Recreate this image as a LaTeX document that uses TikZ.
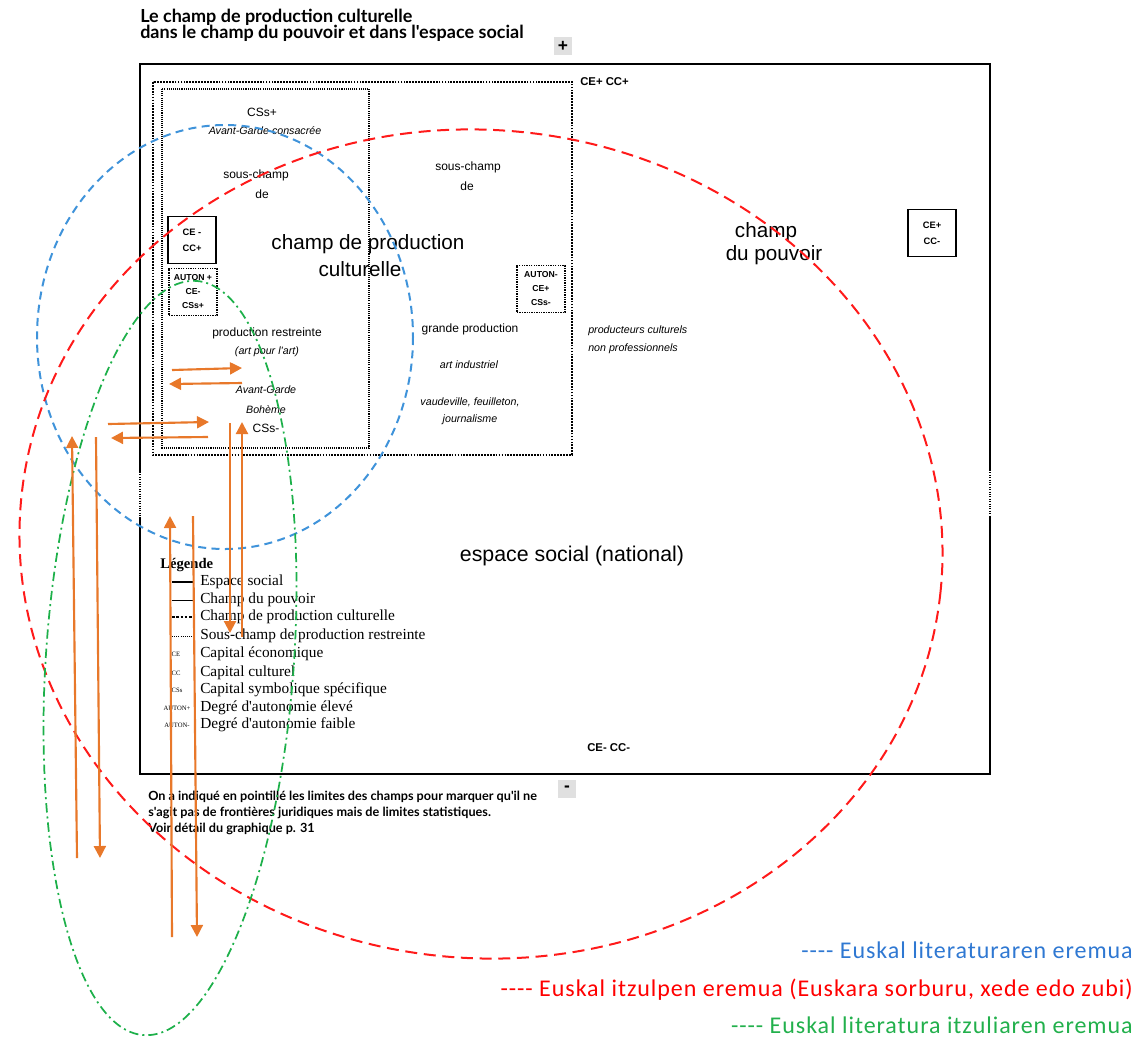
\documentclass[tikz,border=0pt]{standalone}
\usepackage{fontspec}
\setmainfont{Liberation Sans}
\newfontfamily\gillfont{Lato}
\newfontfamily\legfont{Liberation Serif}
\newfontfamily\calfont[LetterSpace=4]{Carlito}
\usetikzlibrary{arrows.meta}
\definecolor{myorange}{HTML}{E8782A}
\definecolor{myblue}{HTML}{3F93DA}
\definecolor{myred}{HTML}{FF1A1A}
\definecolor{mygreen}{HTML}{1DB04A}
\definecolor{txtblue}{HTML}{2F78D2}
\definecolor{txtred}{HTML}{FF0000}
\definecolor{txtgreen}{HTML}{22B04C}
\begin{document}
\begin{tikzpicture}[x=0.75pt,y=-0.75pt,
  esp/.style={line width=1.8pt},
  pouv/.style={double, double distance=0.9pt, line width=0.45pt},
  cpc/.style={line width=1.3pt, dash pattern=on 1.3pt off 0.9pt},
  sch/.style={line width=0.8pt, dash pattern=on 0.8pt off 0.8pt},
  dotgap/.style={line width=0.8pt, dash pattern=on 0.8pt off 1pt},
  lbl/.style={inner sep=0pt, align=center, font=\fontsize{9}{11}\selectfont},
  lbli/.style={inner sep=0pt, align=center, font=\fontsize{8}{10}\selectfont\itshape},
  big/.style={inner sep=0pt, align=center, font=\fontsize{15.5}{18}\selectfont},
  code/.style={inner sep=0pt, align=center, font=\fontsize{8.5}{11}\selectfont\bfseries},
  codebox/.style={draw, line width=0.9pt, minimum width=36pt, minimum height=35pt, inner sep=0pt, align=center, font=\fontsize{7}{12}\selectfont\bfseries},
  autobox/.style={draw, line width=0.9pt, dash pattern=on 1pt off 0.8pt, minimum width=36pt, minimum height=35pt, inner sep=0pt, align=center, font=\fontsize{6.5}{10.5}\selectfont\bfseries},
  legtxt/.style={anchor=west, inner sep=0pt, font=\legfont\fontsize{11.5}{13}\selectfont},
  legcode/.style={inner sep=0pt, font=\legfont\fontsize{5}{6}\selectfont},
  note/.style={anchor=west, inner sep=0pt, font=\gillfont\bfseries\fontsize{9.5}{11}\selectfont},
  ttl/.style={anchor=west, inner sep=0pt, font=\gillfont\bfseries\fontsize{13.5}{15}\selectfont},
  arr/.style={draw=myorange, line width=1.6pt, -{Triangle[length=9pt,width=9pt]}},
  keytxt/.style={anchor=east, inner sep=0pt, font=\calfont\fontsize{18}{21}\selectfont},
  signbox/.style={fill=black!12, minimum width=13pt, minimum height=13pt, inner sep=0pt, font=\bfseries\fontsize{13}{13}\selectfont}
]
\useasboundingbox (0,0) rectangle (1142,1040);

% title
\node[ttl] (t1) at (140,17) {Le champ de production culturelle};
\node[ttl] (t2) at (140,33) {dans le champ du pouvoir et dans l'espace social};
\node[signbox] (plus) at (563,46) {+};
\node[signbox] (minus) at (567,789) {-};

% espace social (outer)
\draw[esp] (140,472) -- (140,64) -- (990,64) -- (990,470);
\draw[esp] (140,517) -- (140,774) -- (990,774) -- (990,517);
\draw[dotgap] (140,472) -- (140,517);
\draw[dotgap] (990,470) -- (990,517);
% champ du pouvoir
\draw[pouv] (145,69) rectangle (984,462);
% champ de production culturelle
\draw[cpc] (153,82) rectangle (572,455);
% sous-champ de production restreinte
\draw[sch] (162,89) rectangle (369,448);

% texts left sub-field
\node[lbl] (css1) at (262,112) {CSs+};
\node[lbli] (agc) at (265,131) {Avant-Garde consacrée};
\node[lbl] (sc1) at (256,175) {sous-champ};
\node[lbl] (de1) at (262,194) {de};
\node[codebox] (b1) at (192,240) {CE -\\CC+};
\node[autobox] (b2) at (193,292) {AUTON +\\CE-\\CSs+};
\node[big] (cdp) at (368,244) {champ de production};
\node[big] (cul) at (360,269) {culturelle};
\node[lbl] (pr) at (267,333) {production restreinte};
\node[lbli] (apa) at (267,352) {(art pour l'art)};
\node[lbli] (agb) at (266,390) {Avant-Garde};
\node[lbli] (boh) at (266,410) {Bohème};
\node[lbl] (css2) at (266,428) {CSs-};

% middle
\node[lbl] (sc2) at (468,167) {sous-champ};
\node[lbl] (de2) at (467,186) {de};
\node[autobox] (b3) at (541,289) {AUTON-\\CE+\\CSs-};
\node[lbl] (gp) at (470,329) {grande production};
\node[lbli] (ai) at (469,365) {art industriel};
\node[lbli] (vf) at (470,402) {vaudeville, feuilleton,};
\node[lbli] (jo) at (470,420) {journalisme};

% right
\node[code, anchor=west] (cepp) at (580,82) {CE+ CC+};
\node[big] (ch) at (766,232) {champ};
\node[big] (dup) at (774,255) {du pouvoir};
\node[codebox] (b4) at (932,233) {CE+\\CC-};
\node[lbli, anchor=west] (pc1) at (588,331) {producteurs culturels};
\node[lbli, anchor=west] (pc2) at (588,349) {non professionnels};

% espace social
\node[big, font=\fontsize{16}{18}\selectfont] (es) at (572,556) {espace social (national)};
\node[code, anchor=west] (cemm) at (587,748) {CE- CC-};

% legend
\node[legtxt, font=\legfont\bfseries\fontsize{11}{13}\selectfont] (lg) at (160,565) {Légende};
\coordinate (l1a) at (172,582); \coordinate (l1b) at (193,582);
\coordinate (l2a) at (172,600); \coordinate (l2b) at (193,600);
\coordinate (l3a) at (172,617); \coordinate (l3b) at (193,617);
\coordinate (l4a) at (172,636); \coordinate (l4b) at (193,636);
\draw[line width=1.6pt] (l1a) -- (l1b);
\draw[line width=0.7pt] (l2a) -- (l2b);
\draw[line width=1.3pt, dash pattern=on 2pt off 1.2pt] (l3a) -- (l3b);
\draw[line width=0.5pt, dash pattern=on 0.8pt off 0.8pt] (l4a) -- (l4b);
\node[legtxt] (e1) at (200,582) {Espace social};
\node[legtxt] (e2) at (200,600) {Champ du pouvoir};
\node[legtxt] (e3) at (200,617) {Champ de production culturelle};
\node[legtxt] (e4) at (200,636) {Sous-champ de production restreinte};
\node[legcode] (k5) at (176,654) {CE};
\node[legtxt] (e5) at (200,654) {Capital économique};
\node[legcode] (k6) at (176,673) {CC};
\node[legtxt] (e6) at (200,673) {Capital culturel};
\node[legcode] (k7) at (177,690) {CSs};
\node[legtxt] (e7) at (200,690) {Capital symbolique spécifique};
\node[legcode] (k8) at (177,708) {AUTON+};
\node[legtxt] (e8) at (200,708) {Degré d'autonomie élevé};
\node[legcode] (k9) at (177,725) {AUTON-};
\node[legtxt] (e9) at (200,725) {Degré d'autonomie faible};

% bottom note
\node[note] (n1) at (148,797) {On a indiqué en pointillé les limites des champs pour marquer qu'il ne};
\node[note] (n2) at (148,813) {s'agit pas de frontières juridiques mais de limites statistiques.};
\node[note] (n3) at (148,829) {Voir détail du graphique p. 31};

% ellipses
\draw[myblue, line width=1.5pt, dash pattern=on 6pt off 4pt] (225,337) ellipse [x radius=188, y radius=212];
\draw[myred, line width=1.5pt, dash pattern=on 9pt off 5pt, rotate around={-6:(481,544)}] (481,544) ellipse [x radius=462, y radius=414];
\draw[mygreen, line width=1.3pt, dash pattern=on 7pt off 3pt on 1.5pt off 3pt, rotate around={-4:(170,658)}] (170,658) ellipse [x radius=124, y radius=378];

% arrows
\coordinate (a1s) at (172,370); \coordinate (a1e) at (242,368);
\coordinate (a2s) at (242,383); \coordinate (a2e) at (169,384);
\coordinate (a3s) at (108,424); \coordinate (a3e) at (209,422);
\coordinate (a4s) at (208,437); \coordinate (a4e) at (111,438);
\coordinate (a5s) at (230,423); \coordinate (a5e) at (230,633);
\coordinate (a6s) at (242,637); \coordinate (a6e) at (242,422);
\coordinate (a7s) at (77,858); \coordinate (a7e) at (72,436);
\coordinate (a8s) at (96,437); \coordinate (a8e) at (100,858);
\coordinate (a9s) at (172,937); \coordinate (a9e) at (170,516);
\coordinate (a10s) at (193,516); \coordinate (a10e) at (197,937);
\foreach \i in {1,...,10} { \draw[arr] (a\i s) -- (a\i e); }

% key
\node[keytxt, text=txtblue] (k1) at (1133,950) {---- Euskal literaturaren eremua};
\node[keytxt, text=txtred] (k2) at (1133,990) {---- Euskal itzulpen eremua (Euskara sorburu, xede edo zubi)};
\node[keytxt, text=txtgreen] (k3) at (1133,1025) {---- Euskal literatura itzuliaren eremua};
\end{tikzpicture}
\end{document}
